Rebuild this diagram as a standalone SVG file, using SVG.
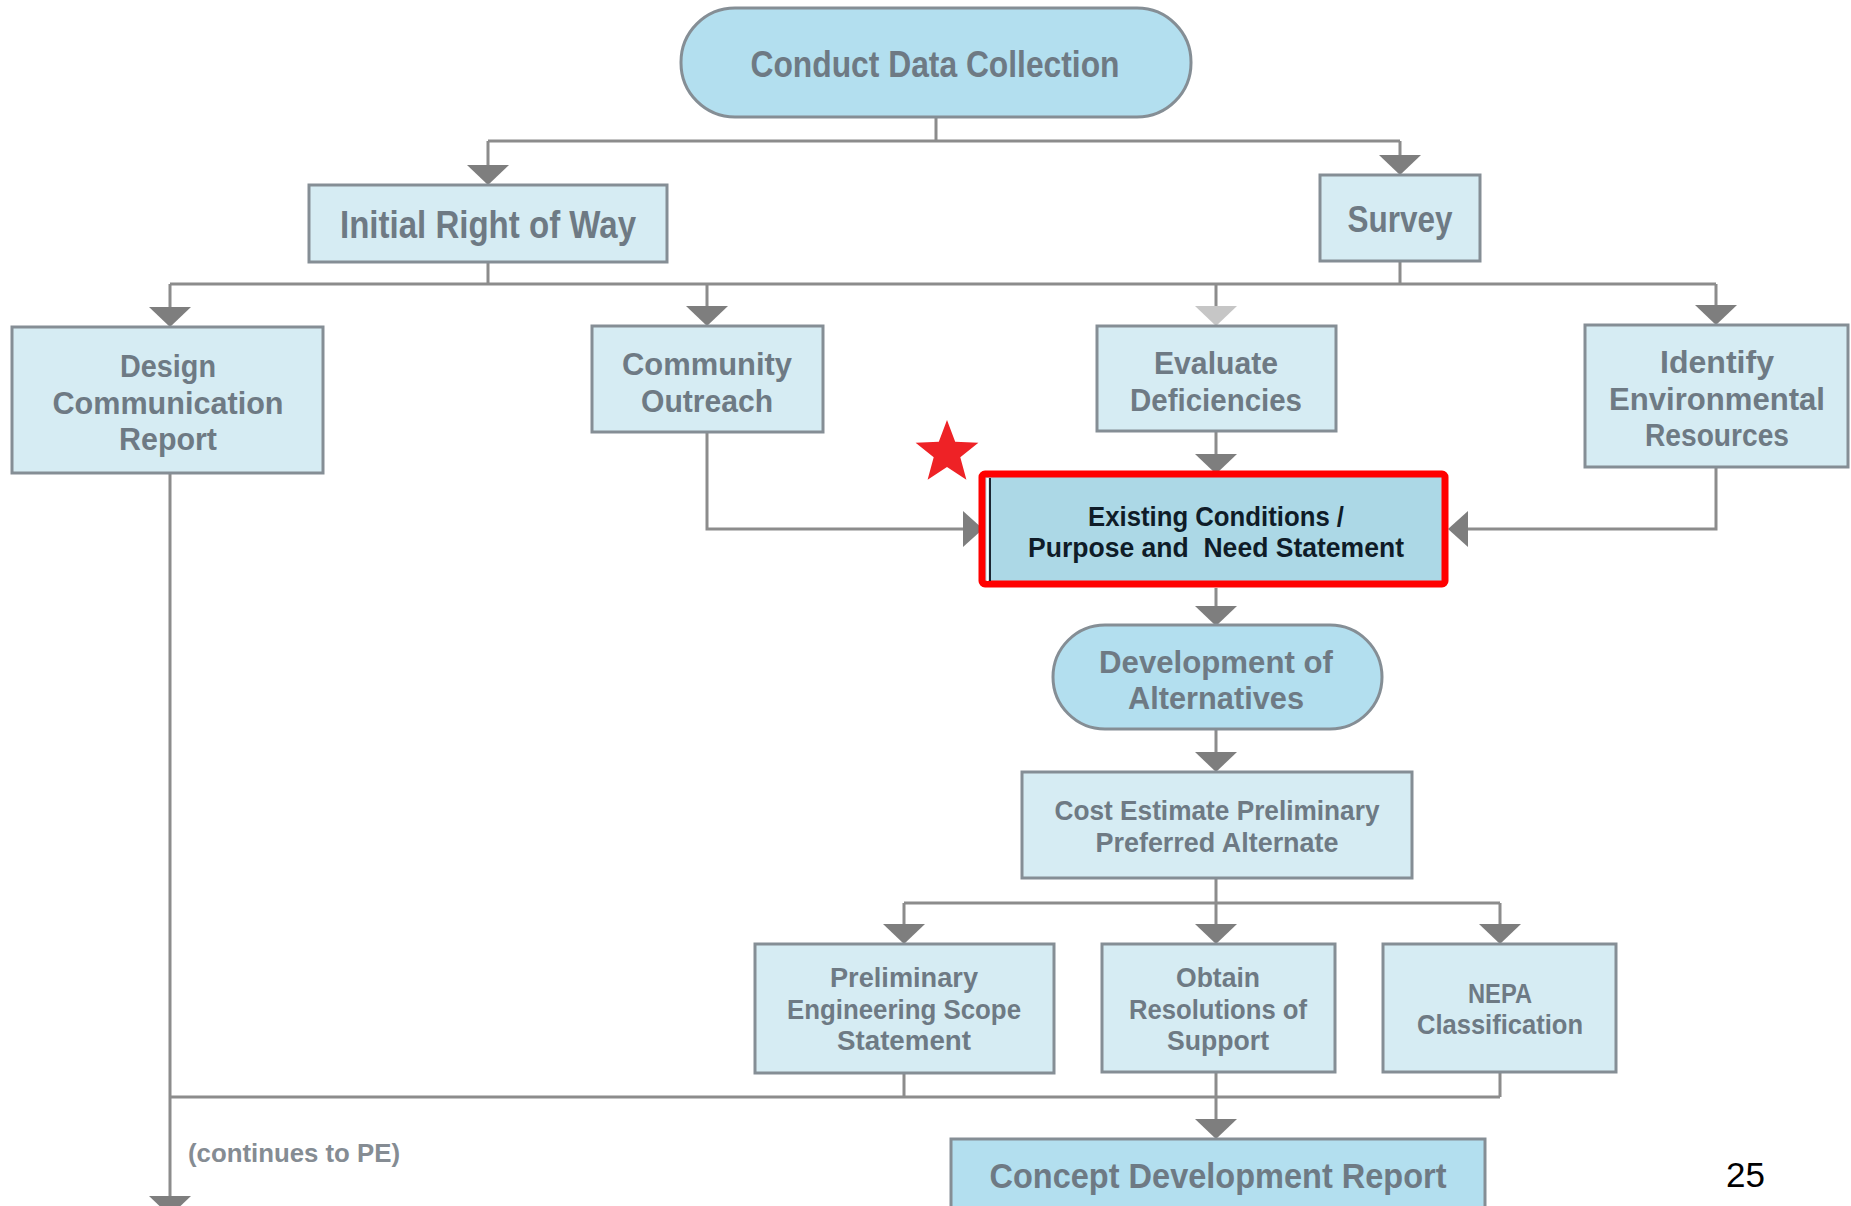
<svg xmlns="http://www.w3.org/2000/svg" xmlns:xlink="http://www.w3.org/1999/xlink" width="1851" height="1206" viewBox="0 0 1851 1206">
<style>
.box{fill:#d6ecf3;stroke:#858e95;stroke-width:3}
.pill{fill:#b3dfef;stroke:#858e95;stroke-width:3}
.t{font-family:"Liberation Sans",Arial,sans-serif;font-weight:700;fill:#6e7a84;text-anchor:middle}
.dk{fill:#0f1c28}
.ln{stroke:#8c8c8c;stroke-width:3;fill:none}
.ah{fill:#7e7e7e}
.ahl{fill:#c6c6c6}
</style>
<defs>
<polygon id="ad" points="-21,-20 21,-20 0,0"/>
<polygon id="ar" points="-20,-18 -20,18 0,0"/>
<polygon id="al" points="20,-18 20,18 0,0"/>
</defs>
<rect width="1851" height="1206" fill="#ffffff"/>

<g id="connectors">
<path class="ln" d="M936 117V141M488 141H1400M488 141V166M1400 141V156"/>
<path class="ln" d="M488 262V284M1400 261V284M170 284H1716M170 284V309M707 284V308M1216 284V308M1716 284V307"/>
<path class="ln" d="M707 432V529H964M1716 467V529H1468M1216 431V456"/>
<path class="ln" d="M1216 588V607M1216 729V753M1216 878V903M904 903H1500M904 903V925M1216 903V925M1500 903V925"/>
<path class="ln" d="M904 1073V1097M1500 1072V1097M170 473V1197M170 1097H1500M1216 1072V1120"/>
<use xlink:href="#ad" class="ah" x="488" y="185"/>
<use xlink:href="#ad" class="ah" x="1400" y="175"/>
<use xlink:href="#ad" class="ah" x="170" y="327"/>
<use xlink:href="#ad" class="ah" x="707" y="326"/>
<use xlink:href="#ad" class="ahl" x="1216" y="326"/>
<use xlink:href="#ad" class="ah" x="1716" y="325"/>
<use xlink:href="#ad" class="ah" x="1216" y="474"/>
<use xlink:href="#ar" class="ah" x="983" y="529"/>
<use xlink:href="#al" class="ah" x="1448" y="529"/>
<use xlink:href="#ad" class="ah" x="1216" y="626"/>
<use xlink:href="#ad" class="ah" x="1216" y="772"/>
<use xlink:href="#ad" class="ah" x="904" y="944"/>
<use xlink:href="#ad" class="ah" x="1216" y="944"/>
<use xlink:href="#ad" class="ah" x="1500" y="944"/>
<use xlink:href="#ad" class="ah" x="1216" y="1139"/>
<use xlink:href="#ad" class="ah" x="170" y="1216"/>
</g>

<g id="conduct-data-collection">
<rect class="pill" x="681" y="8" width="510" height="109" rx="54"/>
<text class="t" x="935" y="77" font-size="37" textLength="369" lengthAdjust="spacingAndGlyphs">Conduct Data Collection</text>
</g>

<g id="initial-right-of-way">
<rect class="box" x="309" y="185" width="358" height="77"/>
<text class="t" x="488" y="238" font-size="38" textLength="296" lengthAdjust="spacingAndGlyphs">Initial Right of Way</text>
</g>

<g id="survey">
<rect class="box" x="1320" y="175" width="160" height="86"/>
<text class="t" x="1400" y="232" font-size="37" textLength="105" lengthAdjust="spacingAndGlyphs">Survey</text>
</g>

<g id="design-communication-report">
<rect class="box" x="12" y="327" width="311" height="146"/>
<text class="t" x="168" y="377" font-size="32" textLength="96" lengthAdjust="spacingAndGlyphs">Design</text>
<text class="t" x="168" y="414" font-size="32" textLength="231" lengthAdjust="spacingAndGlyphs">Communication</text>
<text class="t" x="168" y="450" font-size="32" textLength="98" lengthAdjust="spacingAndGlyphs">Report</text>
</g>

<g id="community-outreach">
<rect class="box" x="592" y="326" width="231" height="106"/>
<text class="t" x="707" y="375" font-size="32" textLength="170" lengthAdjust="spacingAndGlyphs">Community</text>
<text class="t" x="707" y="412" font-size="32" textLength="132" lengthAdjust="spacingAndGlyphs">Outreach</text>
</g>

<g id="evaluate-deficiencies">
<rect class="box" x="1097" y="326" width="239" height="105"/>
<text class="t" x="1216" y="374" font-size="32" textLength="124" lengthAdjust="spacingAndGlyphs">Evaluate</text>
<text class="t" x="1216" y="411" font-size="32" textLength="172" lengthAdjust="spacingAndGlyphs">Deficiencies</text>
</g>

<g id="identify-environmental-resources">
<rect class="box" x="1585" y="325" width="263" height="142"/>
<text class="t" x="1717" y="373" font-size="32" textLength="114" lengthAdjust="spacingAndGlyphs">Identify</text>
<text class="t" x="1717" y="410" font-size="32" textLength="216" lengthAdjust="spacingAndGlyphs">Environmental</text>
<text class="t" x="1717" y="446" font-size="32" textLength="144" lengthAdjust="spacingAndGlyphs">Resources</text>
</g>

<g id="existing-conditions">
<rect x="982" y="474" width="463" height="110" rx="3" fill="#acd8e6" stroke="#ff0000" stroke-width="7"/>
<line x1="987.5" y1="478" x2="987.5" y2="581" stroke="#ffffff" stroke-width="2"/>
<line x1="990" y1="478" x2="990" y2="581" stroke="#1b2631" stroke-width="2"/>
<text class="t dk" x="1216" y="526" font-size="27" textLength="256" lengthAdjust="spacingAndGlyphs">Existing Conditions /</text>
<text class="t dk" x="1216" y="557" font-size="27" textLength="376" lengthAdjust="spacingAndGlyphs" xml:space="preserve">Purpose and  Need Statement</text>
</g>

<g id="star">
<polygon points="947,420 955.2,441.7 978.4,442.8 960.3,457.3 966.4,479.7 947,467 927.6,479.7 933.7,457.3 915.6,442.8 938.8,441.7" fill="#ee2226"/>
</g>

<g id="development-of-alternatives">
<rect class="pill" x="1053" y="625" width="329" height="104" rx="52"/>
<text class="t" x="1216" y="673" font-size="32" textLength="234" lengthAdjust="spacingAndGlyphs">Development of</text>
<text class="t" x="1216" y="709" font-size="32" textLength="176" lengthAdjust="spacingAndGlyphs">Alternatives</text>
</g>

<g id="cost-estimate">
<rect class="box" x="1022" y="772" width="390" height="106"/>
<text class="t" x="1217" y="820" font-size="28" textLength="325" lengthAdjust="spacingAndGlyphs">Cost Estimate Preliminary</text>
<text class="t" x="1217" y="852" font-size="28" textLength="243" lengthAdjust="spacingAndGlyphs">Preferred Alternate</text>
</g>

<g id="preliminary-engineering-scope-statement">
<rect class="box" x="755" y="944" width="299" height="129"/>
<text class="t" x="904" y="987" font-size="27" textLength="148" lengthAdjust="spacingAndGlyphs">Preliminary</text>
<text class="t" x="904" y="1019" font-size="27" textLength="234" lengthAdjust="spacingAndGlyphs">Engineering Scope</text>
<text class="t" x="904" y="1050" font-size="27" textLength="134" lengthAdjust="spacingAndGlyphs">Statement</text>
</g>

<g id="obtain-resolutions-of-support">
<rect class="box" x="1102" y="944" width="233" height="128"/>
<text class="t" x="1218" y="987" font-size="27" textLength="84" lengthAdjust="spacingAndGlyphs">Obtain</text>
<text class="t" x="1218" y="1019" font-size="27" textLength="178" lengthAdjust="spacingAndGlyphs">Resolutions of</text>
<text class="t" x="1218" y="1050" font-size="27" textLength="102" lengthAdjust="spacingAndGlyphs">Support</text>
</g>

<g id="nepa-classification">
<rect class="box" x="1383" y="944" width="233" height="128"/>
<text class="t" x="1500" y="1003" font-size="27" textLength="64" lengthAdjust="spacingAndGlyphs">NEPA</text>
<text class="t" x="1500" y="1034" font-size="27" textLength="166" lengthAdjust="spacingAndGlyphs">Classification</text>
</g>

<g id="concept-development-report">
<rect class="pill" x="951" y="1139" width="534" height="90"/>
<text class="t" x="1218" y="1188" font-size="35" textLength="457" lengthAdjust="spacingAndGlyphs">Concept Development Report</text>
</g>

<g id="continues-label">
<text class="t" x="188" y="1162" font-size="25" textLength="212" lengthAdjust="spacingAndGlyphs" style="text-anchor:start;fill:#858c93">(continues to PE)</text>
</g>

<g id="page-number">
<text x="1726" y="1187" font-family="'Liberation Sans',Arial,sans-serif" font-size="35" fill="#000000">25</text>
</g>
</svg>
